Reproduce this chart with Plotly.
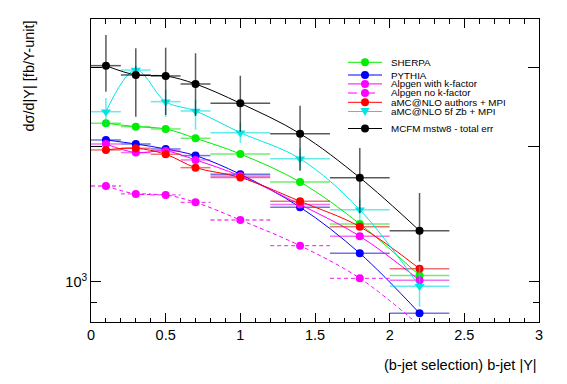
import plotly.graph_objects as go

# ---- data ----
x_centers = [0.1, 0.3, 0.5, 0.7, 1.0, 1.4, 1.8, 2.2]
x_halfwidth = [0.1, 0.1, 0.1, 0.1, 0.2, 0.2, 0.2, 0.2]

names = ["SHERPA", "PYTHIA", "Alpgen with k-factor", "Alpgen no k-factor",
         "aMC@NLO authors + MPI", "aMC@NLO 5f Zb + MPI", "MCFM mstw8 - total err"]

sherpa = [2253, 2214, 2188, 2086, 1925, 1668, 1346, 1034]
pythia = [2068, 2026, 1975, 1909, 1735, 1466, 1158, 852]
alpgen_k = [2026, 1939, 1955, 1867, 1720, 1486, 1264, 1009]
alpgen_nok = [1634, 1569, 1561, 1503, 1373, 1204, 1019, 800]
amcnlo_auth = [1965, 1982, 1922, 1795, 1707, 1511, 1327, 1070]
amcnlo_5f = [2390, 2958, 2516, 2399, 2147, 1879, 1447, 978]
amcnlo_5f_up = [175, 60, 155, 140, 115, 103, 80, 105]
amcnlo_5f_dn = [180, 60, 190, 220, 110, 105, 75, 97]
mcfm = [3025, 2884, 2870, 2754, 2495, 2136, 1705, 1300]
mcfm_up = [514, 422, 446, 469, 378, 329, 280, 277]
mcfm_dn = [377, 554, 520, 416, 337, 369, 281, 190]

ytick_vals = [1000]
ytick_text = ["10<sup>3</sup>"]
ylong_vals = [2000, 3000]
yminor_vals = [900]

colors = ["#00ee00", "#0000ff", "#ff00ff", "#ff00ff", "#ff0000", "#00e5e5", "#000000"]
err_colors = ["rgba(0,220,0,0.55)", "rgba(0,0,200,0.55)", "rgba(230,0,230,0.55)",
              "rgba(230,0,230,0.7)", "rgba(220,0,0,0.55)", "rgba(0,220,220,0.6)",
              "rgba(0,0,0,0.65)"]
series = [sherpa, pythia, alpgen_k, alpgen_nok, amcnlo_auth, amcnlo_5f, mcfm]

FONT = "Liberation Sans, Arial, Helvetica, sans-serif"
fig = go.Figure()

for i, vals in enumerate(series):
    dashed = (i == 3)
    ex = dict(type="data", array=x_halfwidth, color=err_colors[i], thickness=1.5, width=0,
              visible=not dashed)
    ey = dict(visible=False)
    if i == 5:
        ey = dict(type="data", array=amcnlo_5f_up, arrayminus=amcnlo_5f_dn, color=err_colors[i],
                  thickness=1.5, width=0, symmetric=False)
    if i == 6:
        ey = dict(type="data", array=mcfm_up, arrayminus=mcfm_dn, color=err_colors[i],
                  thickness=1.5, width=0, symmetric=False)
    if dashed:
        sx, sy = [], []
        for c, h, v in zip(x_centers, x_halfwidth, vals):
            sx += [c - h, c + h, None]
            sy += [v, v, None]
        fig.add_trace(go.Scatter(x=sx, y=sy, mode="lines", showlegend=False,
                                 line=dict(color=err_colors[i], width=1.3, dash="4px,3px")))
    fig.add_trace(go.Scatter(
        x=x_centers, y=vals, mode="lines+markers", name=names[i], showlegend=False,
        line=dict(color=colors[i], width=1, shape="spline", smoothing=1,
                  dash="4px,3px" if dashed else "solid"),
        marker=dict(color=colors[i], size=9 if i == 5 else 8,
                    symbol="triangle-down" if i == 5 else "circle", line=dict(width=0)),
        error_x=ex, error_y=ey))

# invisible helper trace so the second (tick-only) log axis is drawn
fig.add_trace(go.Scatter(x=[x_centers[0]], y=[mcfm[0]], yaxis="y2", mode="markers",
                         marker=dict(opacity=0), hoverinfo="skip", showlegend=False))

# ---- custom legend (layout decorations) ----
L, T, W, H = 91, 19, 448, 303
def px(x): return (x - L) / W
def py(y): return (T + H - y) / H

leg_rows = [62.3, 75, 83.9, 93, 102.3, 111.5, 128.5]
shapes = []
annotations = []
for i, ry in enumerate(leg_rows):
    shapes.append(dict(type="line", xref="paper", yref="paper", x0=px(348), x1=px(382),
                       y0=py(ry), y1=py(ry),
                       line=dict(color=colors[i], width=1, dash="dash" if i == 3 else "solid")))
    if i == 5:
        shapes.append(dict(type="path", xref="paper", yref="paper", xsizemode="pixel",
                           ysizemode="pixel", xanchor=px(365), yanchor=py(ry),
                           path="M-4.5,3.5 L4.5,3.5 L0,-4.5 Z", fillcolor=colors[i],
                           line=dict(width=0)))
    else:
        shapes.append(dict(type="circle", xref="paper", yref="paper", xsizemode="pixel",
                           ysizemode="pixel", xanchor=px(365), yanchor=py(ry),
                           x0=-4, x1=4, y0=-4, y1=4, fillcolor=colors[i], line=dict(width=0)))
    annotations.append(dict(text=names[i], xref="paper", yref="paper", x=px(389), y=py(ry),
                            xanchor="left", yanchor="middle", showarrow=False,
                            font=dict(family=FONT, size=9.8, color="black")))

annotations.append(dict(text="(b-jet selection) b-jet |Y|", xref="paper", yref="paper",
                        x=1.0, y=py(365), xanchor="right", yanchor="middle", showarrow=False,
                        font=dict(family=FONT, size=14.5, color="black")))
annotations.append(dict(text="dσ/d|Y| [fb/Y-unit]", xref="paper", yref="paper",
                        x=px(28), y=1.0, xanchor="center", yanchor="top", textangle=-90,
                        showarrow=False, font=dict(family=FONT, size=14.5, color="black")))

YR = [2.911, 3.5844]
fig.update_layout(
    width=567, height=384,
    margin=dict(l=L, r=567 - L - W, t=T, b=384 - T - H, pad=0),
    paper_bgcolor="white", plot_bgcolor="white",
    font=dict(family=FONT, size=14, color="black"),
    shapes=shapes, annotations=annotations, showlegend=False,
    yaxis2=dict(type="log", range=YR, overlaying="y", side="left", tickmode="array",
                tickvals=ylong_vals, ticks="inside", ticklen=11, tickcolor="black",
                showticklabels=False, showline=False, mirror="ticks", showgrid=False,
                zeroline=False),
)
fig.update_xaxes(range=[0, 3], tickmode="linear", tick0=0, dtick=0.5, ticks="inside",
                 ticklen=9, tickcolor="black", showline=True, linecolor="black", linewidth=1,
                 mirror="ticks", showgrid=False, zeroline=False,
                 tickfont=dict(family=FONT, size=14.5),
                 minor=dict(dtick=0.1, tick0=0, ticks="inside", ticklen=4.5, tickcolor="black",
                            showgrid=False))
fig.layout.yaxis.update(type="log", range=YR, tickmode="array", tickvals=ytick_vals,
                        ticktext=ytick_text, ticks="inside", ticklen=10, tickcolor="black",
                        showline=True, linecolor="black", linewidth=1, mirror="ticks",
                        showgrid=False, zeroline=False, tickfont=dict(family=FONT, size=14.5),
                        minor=dict(tickmode="array", tickvals=yminor_vals, ticks="inside",
                                   ticklen=6, tickcolor="black", showgrid=False))

fig.write_html("out.html", config={"displayModeBar": False},
               post_script="document.body.style.margin='0px';")
